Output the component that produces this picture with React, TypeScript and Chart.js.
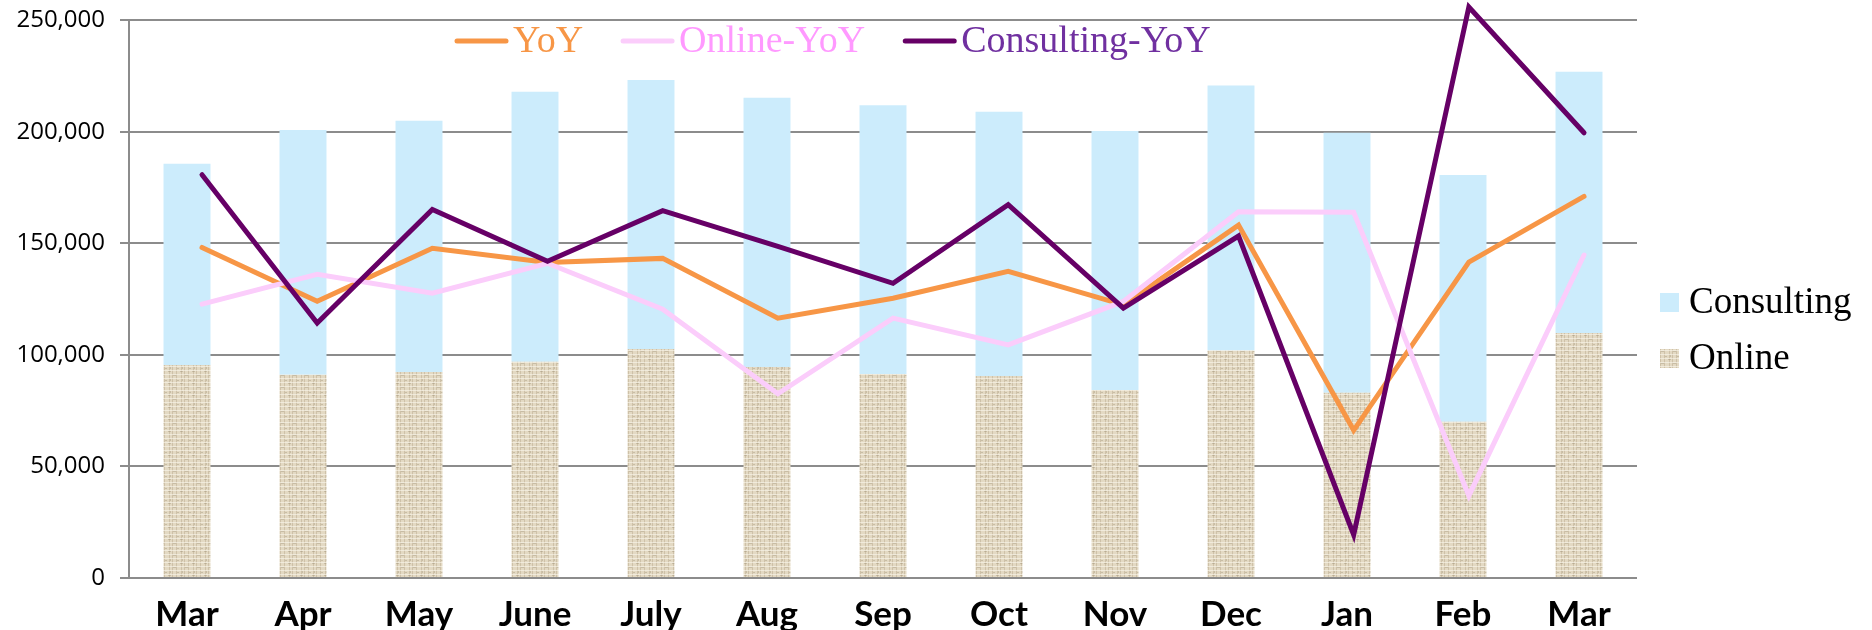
import React, { useEffect, useRef } from 'react';
import { Chart, registerables } from 'chart.js';

Chart.register(...registerables);

const categories = ['Mar', 'Apr', 'May', 'June', 'July', 'Aug', 'Sep', 'Oct', 'Nov', 'Dec', 'Jan', 'Feb', 'Mar'];
const onlineValues = [95500, 91100, 92400, 96900, 102700, 94600, 91500, 90600, 84300, 102000, 83100, 70000, 109900];
const consultingValues = [90200, 109800, 112600, 121100, 120600, 120700, 120500, 118400, 116100, 118800, 116500, 110700, 117100];
const yoyValues = [148200, 124100, 147800, 141500, 143300, 116500, 125400, 137500, 122500, 158200, 66200, 141600, 171100];
const onlineYoyValues = [122800, 136200, 127700, 141100, 120500, 82600, 116500, 104500, 124000, 164200, 164000, 36900, 144800];
const consultingYoyValues = [180800, 114300, 165200, 142000, 164700, 148700, 132100, 167400, 121000, 153300, 19400, 256000, 199600];
const yTickValues = [0, 50000, 100000, 150000, 200000, 250000];

const lineColors = ['#F79646', '#FBCDFB', '#660066'];
const lineLegendTextColors = ['#F79646', '#FF99FF', '#7030A0'];

function makeLinen(): CanvasPattern | string {
  const c = document.createElement('canvas');
  c.width = 12;
  c.height = 12;
  const g = c.getContext('2d');
  if (!g) return '#E0D6BF';
  g.fillStyle = '#E3D9C3';
  g.fillRect(0, 0, 12, 12);
  g.fillStyle = 'rgba(165,150,118,0.35)';
  [1, 4, 8].forEach((x) => g.fillRect(x, 0, 1, 12));
  g.fillStyle = 'rgba(250,246,236,0.6)';
  [2, 6, 10].forEach((y) => g.fillRect(0, y, 12, 1));
  g.fillStyle = 'rgba(140,125,95,0.3)';
  g.fillRect(5, 3, 3, 1);
  g.fillRect(9, 8, 2, 1);
  g.fillRect(0, 11, 3, 1);
  g.fillRect(2, 7, 1, 2);
  const p = g.createPattern(c, 'repeat');
  return p || '#E0D6BF';
}

const customLegends = {
  id: 'customLegends',
  afterDraw(chart: any) {
    const ctx: CanvasRenderingContext2D = chart.ctx;
    const ds = chart.data.datasets;
    ctx.save();
    // top legend (line series)
    let x = 455;
    const lineY = 41;
    const baseY = 52;
    ds.forEach((d: any, i: number) => {
      if (d.type !== 'line') return;
      ctx.strokeStyle = d.borderColor;
      ctx.lineWidth = 5;
      ctx.lineCap = 'round';
      ctx.beginPath();
      ctx.moveTo(x + 2, lineY);
      ctx.lineTo(x + 51, lineY);
      ctx.stroke();
      x += 58;
      ctx.font = '38px "Liberation Serif"';
      ctx.textBaseline = 'alphabetic';
      ctx.textAlign = 'left';
      ctx.fillStyle = lineLegendTextColors[i];
      ctx.fillText(d.label, x, baseY);
      x += ctx.measureText(d.label).width + 38;
    });
    // right legend (bar series, top of stack first)
    const bars = ds.filter((d: any) => d.type === 'bar').reverse();
    let y = 293;
    bars.forEach((d: any) => {
      ctx.fillStyle = d.backgroundColor;
      ctx.fillRect(1660, y, 19, 19);
      ctx.fillStyle = '#000';
      ctx.font = '37px "Liberation Serif"';
      ctx.textBaseline = 'alphabetic';
      ctx.textAlign = 'left';
      ctx.fillText(d.label, 1689, y + 20);
      y += 56;
    });
    ctx.restore();
  },
};

export default function App() {
  const ref = useRef<HTMLCanvasElement | null>(null);

  useEffect(() => {
    document.body.style.margin = '0';
    const canvas = ref.current;
    if (!canvas) return;
    const linen = makeLinen();
    const lineDataset = (label: string, values: number[], idx: number, order: number) => ({
      type: 'line' as const,
      label,
      data: values.map((v, i) => ({ x: i, y: v })),
      xAxisID: 'x2',
      yAxisID: 'y2',
      borderColor: lineColors[idx],
      backgroundColor: lineColors[idx],
      borderWidth: 5,
      borderCapStyle: 'round' as const,
      borderJoinStyle: 'miter' as const,
      pointRadius: 0,
      pointHoverRadius: 0,
      tension: 0,
      fill: false,
      clip: false as any,
      order,
    });
    const barDataset = (label: string, values: number[], color: any, order: number) => ({
      type: 'bar' as const,
      label,
      data: values,
      backgroundColor: color,
      xAxisID: 'x',
      yAxisID: 'y',
      grouped: false,
      barPercentage: 0.405,
      categoryPercentage: 1,
      order,
    });

    const chart = new Chart(canvas, {
      type: 'bar',
      data: {
        labels: categories,
        datasets: [
          lineDataset('YoY', yoyValues, 0, 2),
          lineDataset('Online-YoY', onlineYoyValues, 1, 1),
          lineDataset('Consulting-YoY', consultingYoyValues, 2, 0),
          barDataset('Online', onlineValues, linen, 3),
          barDataset('Consulting', consultingValues, '#CCECFC', 4),
        ] as any,
      },
      options: {
        responsive: false,
        animation: false,
        layout: { padding: { left: 0, right: 235, top: 19, bottom: 0 } },
        plugins: {
          legend: { display: false },
          tooltip: { enabled: false },
        },
        scales: {
          x: {
            type: 'category',
            position: 'bottom',
            offset: true,
            grid: { display: false, drawTicks: false },
            border: { display: false },
            ticks: {
              color: '#000',
              font: { family: 'Lato', size: 35, weight: 'bold' },
              padding: 16,
              maxRotation: 0,
              autoSkip: false,
            },
            afterFit: (s: any) => {
              s.height = 52;
            },
          },
          x2: {
            type: 'linear',
            position: 'top',
            offset: false,
            min: -0.634,
            max: 12.46,
            grid: { display: false, drawTicks: false, offset: false },
            border: { display: false },
            ticks: { display: false },
            afterFit: (s: any) => {
              s.height = 0;
            },
          },
          y: {
            stacked: true,
            min: 0,
            max: 250000,
            afterBuildTicks: (s: any) => {
              s.ticks = yTickValues.map((v) => ({ value: v }));
            },
            grid: { color: '#8C8C8C', lineWidth: 2, tickLength: 9, drawTicks: true },
            border: { display: true, color: '#8C8C8C', width: 2 },
            ticks: {
              color: '#000',
              font: { family: 'Open Sans', size: 24, lineHeight: 0.45 },
              padding: 15,
              callback: (v: any) => Number(v).toLocaleString('en-US'),
            },
            afterFit: (s: any) => {
              s.width = 129;
            },
          },
          y2: { display: false, min: 0, max: 250000 },
        },
      } as any,
      plugins: [customLegends],
    });
    return () => chart.destroy();
  }, []);

  return (
    <div style={{ position: 'absolute', left: 0, top: 0, width: 1872, height: 630, background: '#fff' }}>
      <canvas ref={ref} width={1872} height={630} style={{ display: 'block' }} />
    </div>
  );
}
